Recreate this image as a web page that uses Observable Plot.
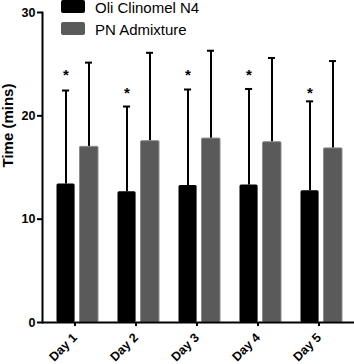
<!DOCTYPE html>
<html>
<head>
<meta charset="utf-8">
<script src="https://cdn.jsdelivr.net/npm/d3@7"></script>
<script src="https://cdn.jsdelivr.net/npm/@observablehq/plot@0.6"></script>
<style>
  body { margin: 0; background: #fff; }
  #chart { position: relative; width: 354px; height: 364px; font-family: "Liberation Sans", Arial, Helvetica, sans-serif; }
  #chart svg { position: absolute; left: 0; top: 0; overflow: visible; }
  .legend { position: absolute; left: 61px; top: 0; font-size: 15px; line-height: 13px; color: #000; }
  .legend .row { display: flex; align-items: center; height: 13px; margin-bottom: 9px; }
  .legend .sw { width: 24px; height: 13px; border-radius: 2px; margin-right: 10px; }
  .legend .txt { display: inline-block; padding-top: 2px; line-height: 13px; }
</style>
</head>
<body>
<div id="chart"></div>
<script>
// Time taken per day for each parenteral nutrition product (mean with upward SD bar)
const days = ["Day 1", "Day 2", "Day 3", "Day 4", "Day 5"];
const series = ["Oli Clinomel N4", "PN Admixture"];
const seriesFill = ["#000000", "#5a5a5a"];

const oliMean = [13.4, 12.65, 13.25, 13.3, 12.75];
const oliSD   = [9.05, 8.25, 9.3, 9.3, 8.65];
const pnMean  = [17.0, 17.55, 17.8, 17.45, 16.85];
const pnSD    = [8.15, 8.55, 8.5, 8.15, 8.45];

// significance markers above the Oli Clinomel bars
const sigText  = ["*", "*", "*", "*", "*"];
const sigLevel = [24.3, 22.6, 24.3, 24.3, 22.6];

const yTicks = [0, 10, 20, 30];
const yTitle = "Time (mins)";

const oli = days.map((day, i) => ({day, value: oliMean[i], top: oliMean[i] + oliSD[i], sig: sigText[i], sigY: sigLevel[i]}));
const pn  = days.map((day, i) => ({day, value: pnMean[i], top: pnMean[i] + pnSD[i]}));

const font = "'Liberation Sans', Arial, Helvetica, sans-serif";

const chart = Plot.plot({
  width: 354,
  height: 364,
  marginLeft: 42,
  marginRight: 0,
  marginTop: 12,
  marginBottom: 42,
  style: {fontFamily: font, background: "transparent", overflow: "visible"},
  x: {domain: days, paddingInner: 0, paddingOuter: 0.02},
  y: {domain: [0, 30]},
  marks: [
    // error bars (upper half only)
    Plot.ruleX(oli, {x: "day", y1: "value", y2: "top", dx: -11, stroke: "#000", strokeWidth: 2}),
    Plot.ruleX(pn, {x: "day", y1: "value", y2: "top", dx: 12, stroke: "#000", strokeWidth: 2}),
    Plot.tickY(oli, {x: "day", y: "top", insetLeft: 16, insetRight: 37.9, stroke: "#000", strokeWidth: 2}),
    Plot.tickY(pn, {x: "day", y: "top", insetLeft: 39, insetRight: 15, stroke: "#000", strokeWidth: 2}),
    // bars
    Plot.barY(oli, {x: "day", y: "value", fill: seriesFill[0], insetLeft: 10.5, insetRight: 32.4, rx: 1.5}),
    Plot.barY(pn, {x: "day", y: "value", fill: seriesFill[1], stroke: "#8c8c8c", strokeWidth: 1, insetLeft: 33.5, insetRight: 9, rx: 1}),
    // significance stars
    Plot.text(oli, {x: "day", y: "sigY", text: "sig", dx: -11, dy: 4, fontSize: 15, fontWeight: "bold", fill: "#000"}),
    // axes
    Plot.axisY({ticks: yTicks, tickSize: 5, tickPadding: 2, fontSize: 12.5, fontWeight: "bold", strokeWidth: 2, label: null}),
    Plot.text([yTitle], {frameAnchor: "left", rotate: -90, dx: -34, fontSize: 15, fontWeight: "bold", fill: "#000"}),
    Plot.axisX({tickSize: 4, tickRotate: -45, tickPadding: 9, dx: -2, fontSize: 12.5, fontWeight: "bold", strokeWidth: 2, label: null}),
    Plot.frame({anchor: "left", strokeWidth: 2}),
    Plot.ruleY([0], {strokeWidth: 2})
  ]
});

const host = document.getElementById("chart");
host.appendChild(chart);

// legend
const legend = document.createElement("div");
legend.className = "legend";
series.forEach((name, i) => {
  const row = document.createElement("div");
  row.className = "row";
  const sw = document.createElement("span");
  sw.className = "sw";
  sw.style.background = seriesFill[i];
  const label = document.createElement("span");
  label.className = "txt";
  label.textContent = name;
  row.appendChild(sw);
  row.appendChild(label);
  legend.appendChild(row);
});
host.appendChild(legend);
</script>
</body>
</html>
